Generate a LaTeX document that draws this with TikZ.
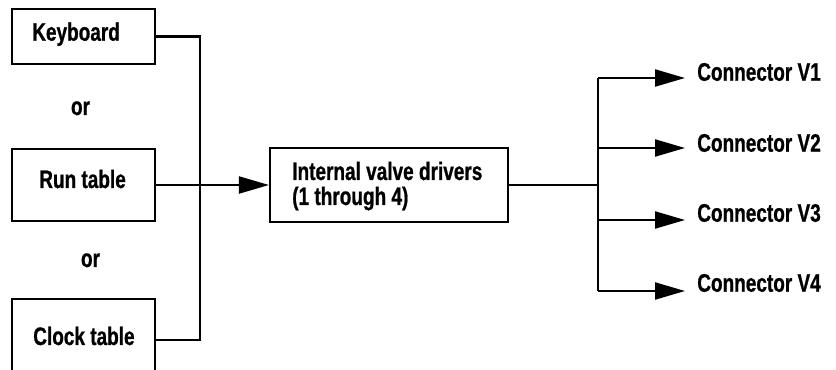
\documentclass[tikz,border=0pt]{standalone}
\usepackage{fontspec}
\setmainfont[FakeStretch=0.75,FakeBold=0.8]{Liberation Sans}
\usetikzlibrary{arrows.meta}
\begin{document}
\begin{tikzpicture}[x=0.75pt,y=-0.75pt,
  box/.style={draw,line width=1.6pt,inner sep=0pt},
  lbl/.style={inner sep=0pt,font=\bfseries\fontsize{19}{25}\selectfont},
  wire/.style={line width=1.6pt},
  arr/.style={wire,-{Triangle[length=22.5pt,width=12.75pt]}}]
\useasboundingbox (0,0) rectangle (836,370);
% input boxes
\node[box,minimum width=143*0.75pt,minimum height=55*0.75pt] (kb) at (83.5,36.5) {};
\node[box,minimum width=143*0.75pt,minimum height=72*0.75pt] (run) at (83.5,185) {};
\node[box,minimum width=143*0.75pt,minimum height=82*0.75pt] (clk) at (83.5,340) {};
\node[lbl,anchor=base west] (kbt) at (32,40.7) {Keyboard};
\node[lbl,anchor=base west] (runt) at (39,188) {Run table};
\node[lbl,anchor=base west] (clkt) at (33,345) {Clock table};
\node[lbl,anchor=base] (or1) at (80.5,115) {or};
\node[lbl,anchor=base] (or2) at (90.5,267) {or};
% central box
\node[box,minimum width=238*0.75pt,minimum height=74*0.75pt] (ivd) at (389,185) {};
\node[lbl,anchor=base west] (ivdt) at (292,180) {Internal valve drivers};
\node[lbl,anchor=base west] (ivdt2) at (292,205) {(1 through 4)};
% left junction
\coordinate (jl) at (200,185);
\draw[wire] (kb.east) -| (jl) |- (clk.east);
\draw[arr] (run.east) -- (ivd.west);
% right side
\coordinate (jr) at (598,185);
\coordinate (b1) at (598,78);
\coordinate (b2) at (598,148);
\coordinate (b3) at (598,220);
\coordinate (b4) at (598,291);
\coordinate (t1) at (685,78);
\coordinate (t2) at (685,148);
\coordinate (t3) at (685,220);
\coordinate (t4) at (685,291);
\draw[wire] (ivd.east) -- (jr);
\draw[wire] (b1) -- (b4);
\draw[arr] (b1) -- (t1);
\draw[arr] (b2) -- (t2);
\draw[arr] (b3) -- (t3);
\draw[arr] (b4) -- (t4);
\node[lbl,anchor=base west] (v1) at (697,80.7) {Connector V1};
\node[lbl,anchor=base west] (v2) at (697,151.7) {Connector V2};
\node[lbl,anchor=base west] (v3) at (697,221.7) {Connector V3};
\node[lbl,anchor=base west] (v4) at (697,291.7) {Connector V4};
\end{tikzpicture}
\end{document}
